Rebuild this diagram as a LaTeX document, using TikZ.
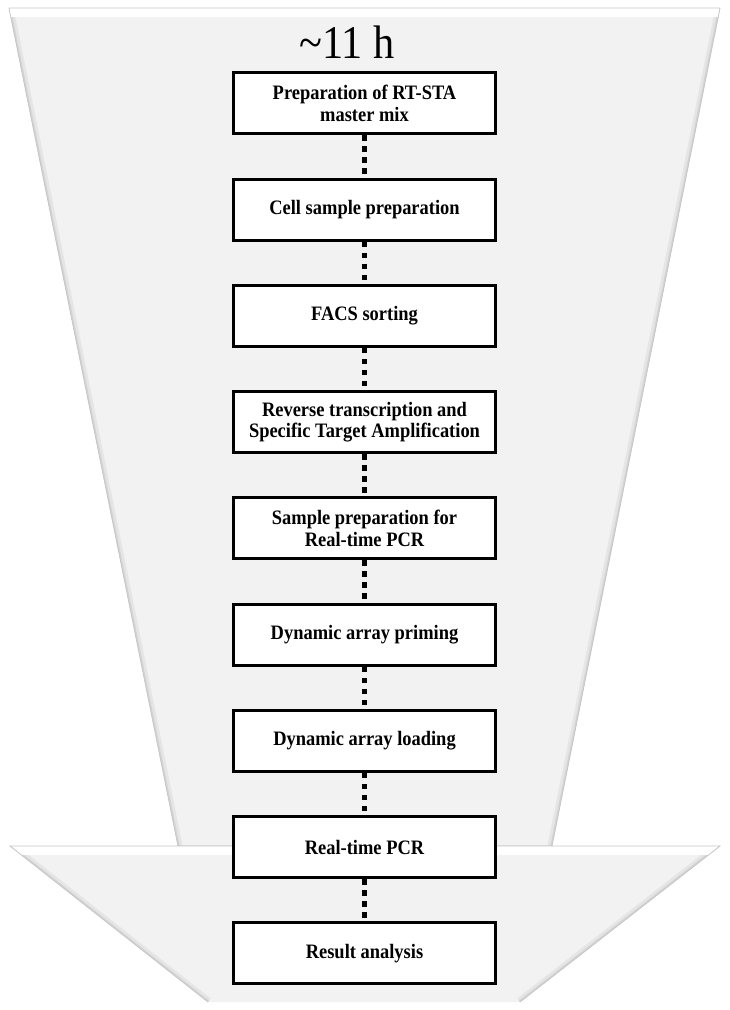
\documentclass[tikz,border=0pt]{standalone}
\usepackage{fontspec}
\setmainfont{Liberation Serif}
\newfontfamily\narrowserif[FakeStretch=0.9]{Liberation Serif}
\usetikzlibrary{positioning}

\begin{document}
\begin{tikzpicture}[
        x=1pt, y=-1pt,
        node distance=42.25pt,
        stepbox/.style={rectangle, draw, line width=3pt, fill=white, minimum width=262pt, minimum height=61pt, align=center, font=\narrowserif\bfseries\fontsize{20.5}{21.5}\selectfont},
        dotline/.style={line width=5pt, dash pattern=on 5.5pt off 5.5pt},
        funnel/.style={fill=black!5},
        rim/.style={draw=black!22, line width=0.8pt},
        bevel/.style={line width=9pt, black!10},
        shadowline/.style={line width=3.5pt, black!17}
    ]
    \useasboundingbox (0,0) rectangle (729,1010);

    % Funnel (time span)
    \path[funnel] (9,8) -- (720,8) -- (552,846) -- (178,846) -- cycle;
    \begin{scope}
        \clip (9,8) -- (720,8) -- (552,846) -- (178,846) -- cycle;
        \draw[bevel] (9,8) -- (178,846);
        \draw[bevel] (720,8) -- (552,846);
        \draw[shadowline] (9,8) -- (178,846);
        \draw[shadowline] (720,8) -- (552,846);
        \fill[white] (0,8) rectangle (729,17);
    \end{scope}
    \draw[rim] (9,8) -- (720,8) -- (552,846) -- (178,846) -- cycle;

    % Arrow head
    \path[funnel] (10,846) -- (720,846) -- (520,1002) -- (208,1002) -- cycle;
    \begin{scope}
        \clip (10,846) -- (720,846) -- (520,1002) -- (208,1002) -- cycle;
        \draw[bevel] (10,846) -- (208,1002);
        \draw[bevel] (720,846) -- (520,1002);
        \draw[shadowline] (10,846) -- (208,1002);
        \draw[shadowline] (720,846) -- (520,1002);
        \fill[white] (0,846) rectangle (729,855);
    \end{scope}
    \draw[rim] (208,1002) -- (10,846) -- (720,846) -- (520,1002);

    % Duration
    \node[anchor=base, font=\narrowserif\fontsize{47}{52}\selectfont] (dur) at (347,58) {\textasciitilde11 h};

    % Steps
    \node[stepbox] (prep) at (364.5,103.4) {Preparation of RT-STA\\master mix};
    \node[stepbox, below=of prep] (cell) {Cell sample preparation};
    \node[stepbox, below=of cell] (facs) {FACS sorting};
    \node[stepbox, below=of facs] (rtsta) {Reverse transcription and\\Specific Target Amplification};
    \node[stepbox, below=of rtsta] (sample) {Sample preparation for\\Real-time PCR};
    \node[stepbox, below=of sample] (priming) {Dynamic array priming};
    \node[stepbox, below=of priming] (loading) {Dynamic array loading};
    \node[stepbox, below=of loading] (pcr) {Real-time PCR};
    \node[stepbox, below=of pcr] (result) {Result analysis};

    % Connecting Lines
    \draw[dotline] (prep) -- (cell);
    \draw[dotline] (cell) -- (facs);
    \draw[dotline] (facs) -- (rtsta);
    \draw[dotline] (rtsta) -- (sample);
    \draw[dotline] (sample) -- (priming);
    \draw[dotline] (priming) -- (loading);
    \draw[dotline] (loading) -- (pcr);
    \draw[dotline] (pcr) -- (result);

\end{tikzpicture}
\end{document}
